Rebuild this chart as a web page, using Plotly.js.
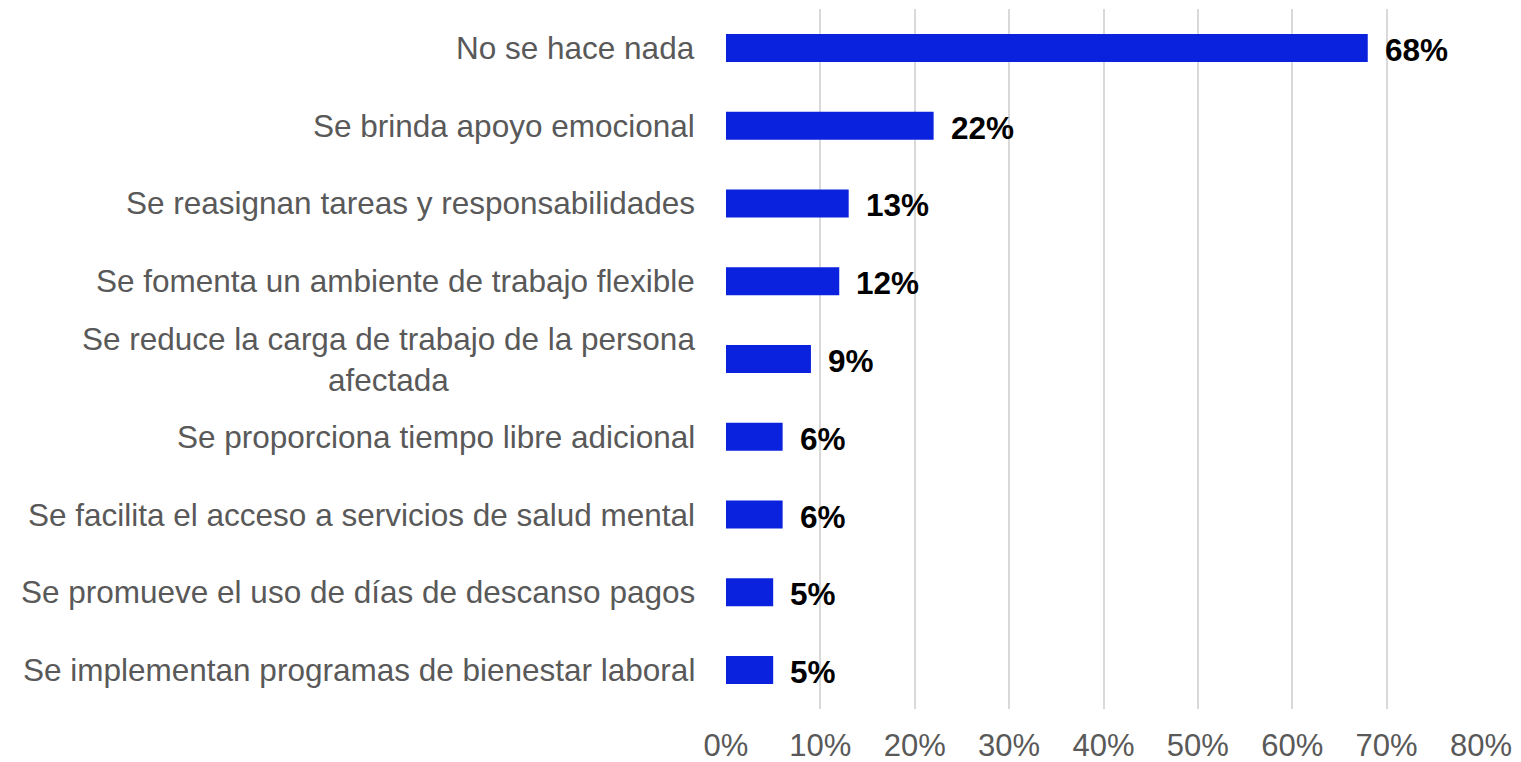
<!DOCTYPE html>
<html>
<head>
<meta charset="utf-8">
<script src="https://cdn.plot.ly/plotly-3.0.1.min.js"></script>
<style>html,body{margin:0;padding:0;background:#fff;}#chart{width:1521px;height:762px;}</style>
</head>
<body>
<div id="chart"></div>
<script>
const categories = [
  "No se hace nada",
  "Se brinda apoyo emocional",
  "Se reasignan tareas y responsabilidades",
  "Se fomenta un ambiente de trabajo flexible",
  "Se reduce la carga de trabajo de la persona<br>afectada",
  "Se proporciona tiempo libre adicional",
  "Se facilita el acceso a servicios de salud mental",
  "Se promueve el uso de días de descanso pagos",
  "Se implementan programas de bienestar laboral"
];
const values = [68, 22, 13, 12, 9, 6, 6, 5, 5];
const tickVals = [0, 10, 20, 30, 40, 50, 60, 70, 80];
const tickText = tickVals.map(v => v + "%");

const FONT = 'Liberation Sans, Arial, sans-serif';
const catAnn = categories.map((c, i) => ({
  x: 0, y: i, xref: 'x', yref: 'y', text: c, showarrow: false,
  xanchor: 'right', yanchor: 'middle', xshift: -29, align: 'center',
  font: {family: FONT, size: 31.5, color: '#595959'}
}));
const valAnn = values.map((v, i) => ({
  x: v, y: i, xref: 'x', yref: 'y', text: '<b>' + v + '%</b>', showarrow: false,
  xanchor: 'left', yanchor: 'middle', xshift: 15, yshift: -2,
  font: {family: FONT, size: 31.5, color: '#000000'}
}));

Plotly.newPlot('chart', [{
  type: 'bar', orientation: 'h',
  x: values, y: categories.map((c, i) => i),
  marker: {color: '#0A22DD'},
  hoverinfo: 'skip'
}], {
  width: 1521, height: 762,
  margin: {l: 726, r: 40, t: 9, b: 53},
  paper_bgcolor: '#fff', plot_bgcolor: '#fff',
  bargap: 0.64,
  showlegend: false,
  xaxis: {
    range: [0, 80], tickvals: tickVals, ticktext: tickText,
    showgrid: true, gridcolor: '#d9d9d9', gridwidth: 2,
    zeroline: false, showline: false, ticks: '',
    tickfont: {family: FONT, size: 31, color: '#595959'},
    ticklabelstandoff: 15
  },
  yaxis: {
    range: [8.5, -0.5], showticklabels: false, showgrid: false, zeroline: false,
    showline: false, ticks: ''
  },
  annotations: catAnn.concat(valAnn)
}, {displayModeBar: false, staticPlot: true});
</script>
</body>
</html>
